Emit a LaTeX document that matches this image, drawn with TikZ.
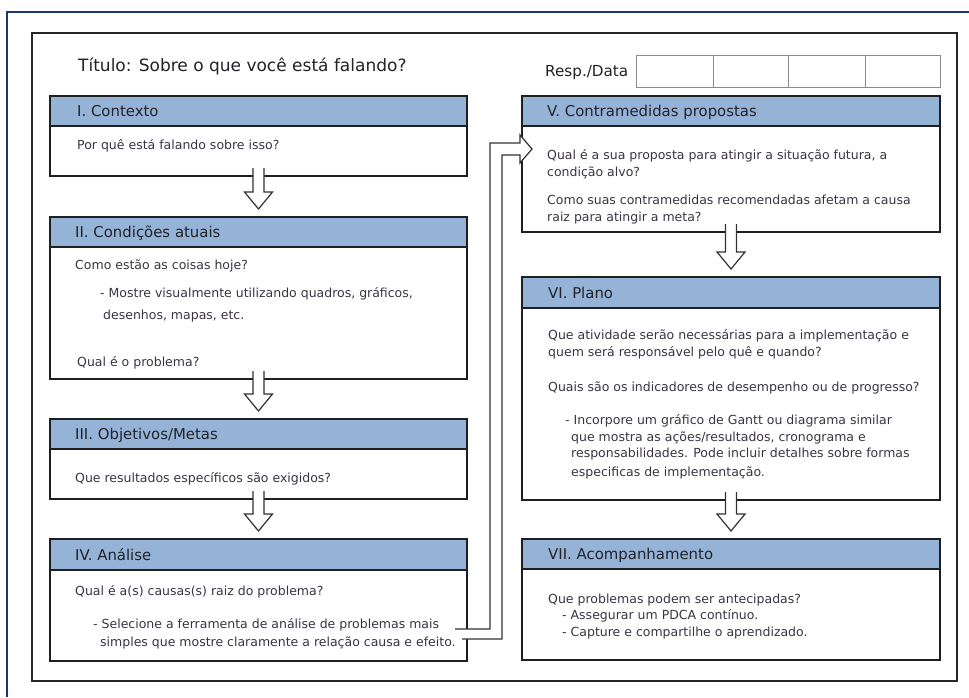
\documentclass[tikz,border=0pt]{standalone}
\usepackage{fontspec}
\setmainfont{DejaVu Sans}
\usetikzlibrary{calc}

\definecolor{navyframe}{RGB}{28,52,120}
\definecolor{hdrblue}{RGB}{149,179,215}
\definecolor{bodyink}{RGB}{58,52,66}
\definecolor{headink}{RGB}{34,34,40}
\definecolor{pipeink}{RGB}{50,50,50}

\tikzset{
  card/.style={draw=none, fill=white, inner sep=0pt, outer sep=0pt},
  cardline/.style={draw=black!88, line width=1.8pt},
  blockarrow/.style={draw=pipeink, line width=1.2pt, fill=white, line join=miter},
  bodytxt/.style={anchor=base west, inner sep=0pt, text=bodyink, font=\fontsize{12.5}{15}\selectfont},
  headtxt/.style={anchor=base west, inner sep=0pt, text=headink, font=\fontsize{14.9}{18}\selectfont},
}

% header band, divider and border of one section card
\newcommand\cardframe[2]{%
  \fill[hdrblue] (#1.north west) rectangle ($(#1.north east)+(0,#2)$);
  \draw[cardline] ($(#1.north west)+(0,#2)$) -- ($(#1.north east)+(0,#2)$);
  \draw[cardline] (#1.north west) rectangle (#1.south east);}

% hollow block arrow from one card down to the next
\newcommand\flowdown[2]{%
  \path[blockarrow] ($(#1.south)+(-5.5,-8)$) -- ($(#2.north)+(-5.5,-25)$)
    -- ($(#2.north)+(-14,-25)$) -- ($(#2.north)+(0,-8)$)
    -- ($(#2.north)+(14,-25)$) -- ($(#2.north)+(5.5,-25)$)
    -- ($(#1.south)+(5.5,-8)$);}

\begin{document}
\begin{tikzpicture}[x=1pt, y=-1pt]
\useasboundingbox (0,0) rectangle (969,697);
\fill[white] (0,0) rectangle (969,697);

% page edges
\draw[navyframe, line width=2.6pt] (7,697) -- (7,12) -- (969,12);
\draw[black!85, line width=1.8pt] (32,33) rectangle (957,681);

% title and responsible/date row
\node[anchor=base west, inner sep=0pt, text=headink, font=\fontsize{17}{20}\selectfont] (title) at (78,71) {Título: Sobre o que você está falando?};
\node[anchor=base west, inner sep=0pt, text=headink, font=\fontsize{15.2}{18}\selectfont] (resp) at (545,76.5) {Resp./Data};
\draw[black!45, line width=1pt] (636,55) rectangle (940,87)
  (713,55) -- (713,87) (788,55) -- (788,87) (865,55) -- (865,87);

% left column cards
\node[card, minimum width=417pt, minimum height=80pt]  (b1) at (258.5,136) {};
\node[card, minimum width=417pt, minimum height=162pt] (b2) at (258.5,298) {};
\node[card, minimum width=417pt, minimum height=80pt]  (b3) at (258.5,459) {};
\node[card, minimum width=417pt, minimum height=122pt] (b4) at (258.5,600) {};
% right column cards
\node[card, minimum width=418pt, minimum height=136pt] (b5) at (731,164) {};
\node[card, minimum width=418pt, minimum height=223pt] (b6) at (731,388.5) {};
\node[card, minimum width=418pt, minimum height=121pt] (b7) at (731,599.5) {};

\cardframe{b1}{30}
\cardframe{b2}{30}
\cardframe{b3}{30}
\cardframe{b4}{31}
\cardframe{b5}{30}
\cardframe{b6}{31}
\cardframe{b7}{30}

% headings
\node[headtxt] (h1) at (77,116.5) {I. Contexto};
\node[headtxt] (h2) at (75,237.5) {II. Condições atuais};
\node[headtxt] (h3) at (75,439.5) {III. Objetivos/Metas};
\node[headtxt] (h4) at (75,560) {IV. Análise};
\node[headtxt] (h5) at (547,116.5) {V. Contramedidas propostas};
\node[headtxt] (h6) at (548,298) {VI. Plano};
\node[headtxt] (h7) at (548,559.5) {VII. Acompanhamento};

% card texts
\node[bodytxt] (t1a) at (77,149) {Por quê está falando sobre isso?};

\node[bodytxt] (t2a) at (75,269) {Como estão as coisas hoje?};
\node[bodytxt] (t2b) at (100,297) {- Mostre visualmente utilizando quadros, gráficos,};
\node[bodytxt] (t2c) at (103,319) {desenhos, mapas, etc.};
\node[bodytxt] (t2d) at (77,366) {Qual é o problema?};

\node[bodytxt] (t3a) at (75,482) {Que resultados específicos são exigidos?};

\node[bodytxt] (t4a) at (75,595) {Qual é a(s) causas(s) raiz do problema?};
\node[bodytxt] (t4b) at (93,628) {- Selecione a ferramenta de análise de problemas mais};
\node[bodytxt] (t4c) at (100,646) {simples que mostre claramente a relação causa e efeito.};

\node[bodytxt] (t5a) at (547,159) {Qual é a sua proposta para atingir a situação futura, a};
\node[bodytxt] (t5b) at (547,176) {condição alvo?};
\node[bodytxt] (t5c) at (547,204) {Como suas contramedidas recomendadas afetam a causa};
\node[bodytxt] (t5d) at (547,221) {raiz para atingir a meta?};

\node[bodytxt] (t6a) at (548,339) {Que atividade serão necessárias para a implementação e};
\node[bodytxt] (t6b) at (548,356) {quem será responsável pelo quê e quando?};
\node[bodytxt] (t6c) at (548,391) {Quais são os indicadores de desempenho ou de progresso?};
\node[bodytxt] (t6d) at (565,424) {- Incorpore um gráfico de Gantt ou diagrama similar};
\node[bodytxt] (t6e) at (571,441) {que mostra as ações/resultados, cronograma e};
\node[bodytxt] (t6f) at (571,457) {responsabilidades. Pode incluir detalhes sobre formas};
\node[bodytxt] (t6g) at (571,476) {especificas de implementação.};

\node[bodytxt] (t7a) at (548,603) {Que problemas podem ser antecipadas?};
\node[bodytxt] (t7b) at (562,619) {- Assegurar um PDCA contínuo.};
\node[bodytxt] (t7c) at (562,636) {- Capture e compartilhe o aprendizado.};

% flow arrows between cards
\flowdown{b1}{b2}
\flowdown{b2}{b3}
\flowdown{b3}{b4}
\flowdown{b5}{b6}
\flowdown{b6}{b7}

% pipe from the analysis card up into the countermeasures card
\coordinate (pA) at ($(b4.east)+(-12,29)$);
\coordinate (pB) at ($(b4.east)+(-5,39)$);
\coordinate (tip) at ($(b5.west)+(10,-15)$);
\path[blockarrow] (pA) -- ($(pA)+(35,0)$) |- ($(tip)+(-12,-6)$)
  -- ($(tip)+(-12,-14)$) -- (tip) -- ($(tip)+(-12,14)$) -- ($(tip)+(-12,6)$)
  -| ($(pB)+(40,0)$) -- (pB);
\end{tikzpicture}
\end{document}
